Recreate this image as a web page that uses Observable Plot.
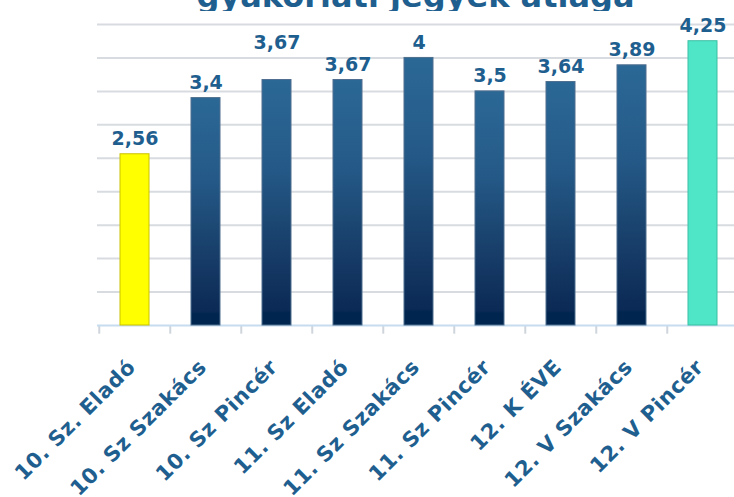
<!DOCTYPE html>
<html>
<head>
<meta charset="utf-8">
<script src="https://cdn.jsdelivr.net/npm/d3@7"></script>
<script src="https://cdn.jsdelivr.net/npm/@observablehq/plot@0.6"></script>
<style>
  html, body { margin: 0; padding: 0; background: #fff; overflow: hidden; width: 734px; height: 497px; }
  #title { position: relative; height: 11px; overflow: hidden; width: 734px; }
  #title span { position: absolute; left: 97px; right: 0; text-align: center; top: -20px; font-family: "DejaVu Sans", sans-serif; font-weight: bold; font-size: 32px; color: #1f5f8f; white-space: nowrap; line-height: 1; }
  svg { display: block; }
</style>
</head>
<body>
<div id="title"><span>gyakorlati jegyek átlaga</span></div>
<div id="chart"></div>
<script>
const categories = ["10. Sz. Eladó","10. Sz Szakács","10. Sz Pincér","11. Sz Eladó","11. Sz Szakács","11. Sz Pincér","12. K ÉVE","12. V Szakács","12. V Pincér"];
const values = [2.56, 3.4, 3.67, 3.67, 4, 3.5, 3.64, 3.89, 4.25];
const gridTicks = [0.5, 1, 1.5, 2, 2.5, 3, 3.5, 4, 4.5];
const raisedLabel = "10. Sz Pincér";

const data = categories.map((c, i) => ({cat: c, value: values[i], idx: i}));
const fmt = v => String(v).replace(".", ",");
const barFill = d => d.idx === 0 ? "#ffff00" : d.idx === categories.length - 1 ? "#4fe6c8" : "url(#barGrad)";
const barStroke = d => d.idx === 0 ? "#c9c200" : d.idx === categories.length - 1 ? "#3bbfa3" : "#4f6f8f";

const W = 734, H = 486, ML = 97, MR = -6, MT = 13, MB = 172;
const step = (W - ML - MR) / categories.length;
const textColor = "#1f5f8f";
const labelStyle = {fill: textColor, fontSize: 19, fontWeight: "bold", fontFamily: "DejaVu Sans, sans-serif", lineAnchor: "bottom"};

const chart = Plot.plot({
  width: W, height: H,
  marginLeft: ML, marginRight: MR, marginTop: MT, marginBottom: MB,
  style: {background: "transparent", overflow: "visible"},
  x: {domain: categories, paddingInner: 0.59, paddingOuter: 0.295, axis: null},
  y: {domain: [0, 4.5], axis: null},
  marks: [
    Plot.ruleY(gridTicks, {stroke: "#d8dce1", strokeWidth: 2}),
    Plot.ruleX(categories, {x: d => d, dx: -step / 2, y1: 0, y2: -0.13, stroke: "#cfd5dc", strokeWidth: 2}),
    Plot.ruleY([0], {stroke: "#c6dcef", strokeWidth: 2}),
    Plot.barY(data, {x: "cat", y: "value", fill: barFill, stroke: barStroke, strokeWidth: 1}),
    Plot.text(data.filter(d => d.cat !== raisedLabel), {x: "cat", y: "value", text: d => fmt(d.value), dy: -9, ...labelStyle}),
    Plot.text(data.filter(d => d.cat === raisedLabel), {x: "cat", y: "value", text: d => fmt(d.value), dy: -31, ...labelStyle}),
    Plot.text(data, {x: "cat", y: 0, text: "cat", dy: 38, dx: -3, rotate: -45, textAnchor: "end", lineAnchor: "middle",
      fill: textColor, fontSize: 21, fontWeight: "bold", fontFamily: "DejaVu Sans, sans-serif"})
  ]
});

const ns = "http://www.w3.org/2000/svg";
const defs = document.createElementNS(ns, "defs");
defs.innerHTML = `<linearGradient id="barGrad" x1="0" y1="0" x2="0" y2="1">
  <stop offset="0" stop-color="#2b6896"/>
  <stop offset="0.35" stop-color="#255a88"/>
  <stop offset="0.7" stop-color="#173d68"/>
  <stop offset="0.94" stop-color="#0b2a55"/>
  <stop offset="0.95" stop-color="#00264f"/>
  <stop offset="1" stop-color="#00264f"/>
</linearGradient>`;
chart.insertBefore(defs, chart.firstChild);
const textGroups = chart.querySelectorAll("g[aria-label='text']");
textGroups[textGroups.length - 1].setAttribute("letter-spacing", "0.6");
document.getElementById("chart").appendChild(chart);
</script>
</body>
</html>
